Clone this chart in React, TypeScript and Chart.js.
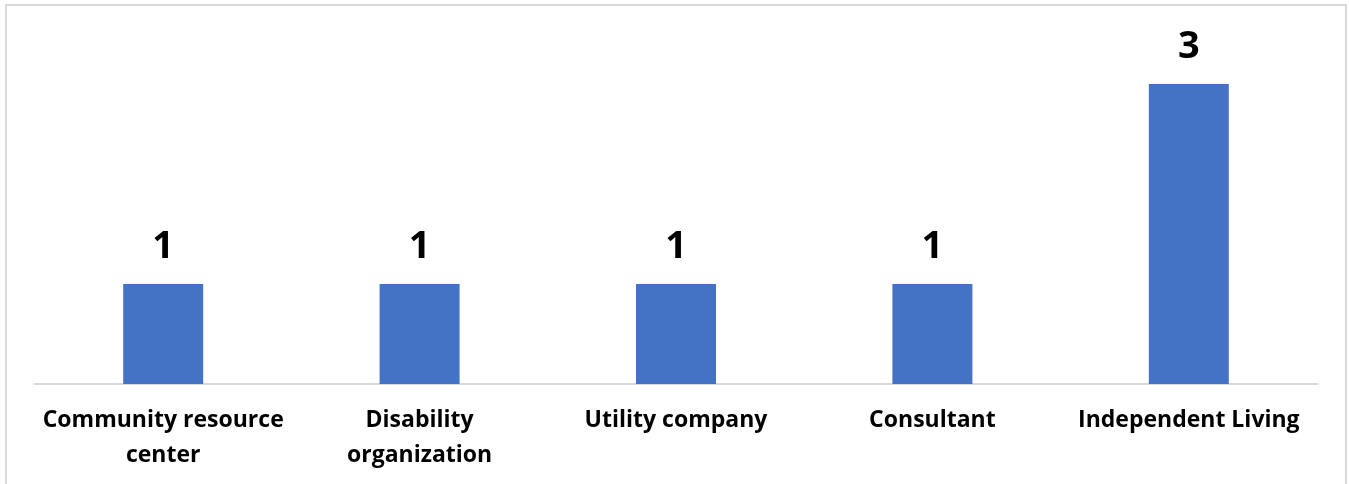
import React, { useEffect, useRef } from "react";
import { Chart, registerables } from "chart.js";

Chart.register(...registerables);

const categories: (string | string[])[] = [
  ["Community resource", "center"],
  ["Disability", "organization"],
  "Utility company",
  "Consultant",
  "Independent Living",
];
const values: number[] = [1, 1, 1, 1, 3];
const yMin = 0;
const yMax = 3.6;

const FONT = "'Open Sans', Lato, sans-serif";

const valueLabels = {
  id: "valueLabels",
  afterDatasetsDraw(chart: any) {
    const ctx = chart.ctx;
    const meta = chart.getDatasetMeta(0);
    ctx.save();
    ctx.fillStyle = "#000000";
    ctx.font = `bold 38px ${FONT}`;
    ctx.textAlign = "center";
    ctx.textBaseline = "alphabetic";
    meta.data.forEach((bar: any, i: number) => {
      ctx.fillText(String(values[i]), bar.x, bar.y - 26);
    });
    ctx.restore();
  },
};

export default function App() {
  const ref = useRef<HTMLCanvasElement | null>(null);
  useEffect(() => {
    if (!ref.current) return;
    const chart = new Chart(ref.current, {
      type: "bar",
      data: {
        labels: categories,
        datasets: [
          {
            data: values,
            backgroundColor: "#4472C4",
            borderWidth: 0,
            categoryPercentage: 1,
            barPercentage: 0.312,
          },
        ],
      },
      options: {
        animation: false,
        responsive: false,
        maintainAspectRatio: false,
        layout: { padding: { left: 35, right: 32, top: 24, bottom: 0 } },
        plugins: {
          legend: { display: false },
          tooltip: { enabled: false },
        },
        scales: {
          y: { display: false, min: yMin, max: yMax },
          x: {
            grid: { display: false, drawTicks: false },
            border: { display: true, color: "#d9d9d9", width: 2 },
            afterFit: (scale: any) => {
              scale.height = 100;
            },
            ticks: {
              color: "#000000",
              font: { family: FONT, size: 23, weight: "bold", lineHeight: 1.52 },
              padding: 19,
              maxRotation: 0,
              minRotation: 0,
              autoSkip: false,
            },
          },
        },
      },
      plugins: [valueLabels],
    });
    return () => chart.destroy();
  }, []);

  return (
    <div
      style={{
        position: "fixed",
        left: 0,
        top: 0,
        width: 1349,
        height: 484,
        overflow: "hidden",
        background: "#ffffff",
      }}
    >
      <div
        style={{
          position: "absolute",
          left: 5,
          top: 4,
          width: 1342,
          height: 520,
          border: "2px solid #d9d9d9",
          boxSizing: "border-box",
        }}
      />
      <canvas
        ref={ref}
        width={1349}
        height={484}
        style={{ position: "absolute", left: 0, top: 0, width: 1349, height: 484 }}
      />
    </div>
  );
}
